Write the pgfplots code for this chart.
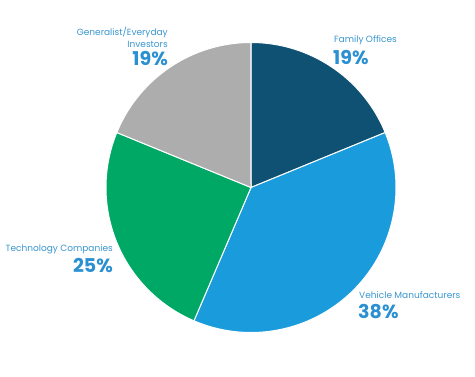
\documentclass[border=0pt]{standalone}
\usepackage{pgfplots}
\pgfplotsset{compat=1.18}
\usepackage{fontspec}
\setmainfont{Poppins}
\definecolor{famc}{HTML}{0F5173}
\definecolor{vehc}{HTML}{1A9BDB}
\definecolor{techc}{HTML}{00A865}
\definecolor{genc}{HTML}{ADADAD}
\definecolor{txtc}{HTML}{3A96D0}
\definecolor{pctc}{HTML}{2A90D2}
\begin{document}
\begin{tikzpicture}
% shares (percent), clockwise from the top
\def\vFam{19}\def\vVeh{38}\def\vTech{25}\def\vGen{19}
\pgfmathsetmacro\tot{\vFam+\vVeh+\vTech+\vGen}
\pgfmathsetmacro\aA{90}
\pgfmathsetmacro\aB{\aA-\vFam/\tot*360}
\pgfmathsetmacro\aC{\aB-\vVeh/\tot*360}
\pgfmathsetmacro\aD{\aC-\vTech/\tot*360}
\pgfmathsetmacro\aE{\aD-\vGen/\tot*360}
\begin{axis}[
  width=475pt, height=377pt, scale only axis,
  xmin=0, xmax=475, ymin=0, ymax=377,
  hide axis, clip=false,
]
\path[fill=white] (axis cs:0,0) rectangle (axis cs:475,377);
\addplot[fill=famc, draw=white, line width=1pt, domain=\aB:\aA, samples=80]
  ({251+145*cos(x)},{189.5+145*sin(x)}) -- (axis cs:251,189.5) -- cycle;
\addplot[fill=vehc, draw=white, line width=1pt, domain=\aC:\aB, samples=120]
  ({251+145*cos(x)},{189.5+145*sin(x)}) -- (axis cs:251,189.5) -- cycle;
\addplot[fill=techc, draw=white, line width=1pt, domain=\aD:\aC, samples=100]
  ({251+145*cos(x)},{189.5+145*sin(x)}) -- (axis cs:251,189.5) -- cycle;
\addplot[fill=genc, draw=white, line width=1pt, domain=\aE:\aD, samples=80]
  ({251+145*cos(x)},{189.5+145*sin(x)}) -- (axis cs:251,189.5) -- cycle;

\node[anchor=east, align=right, text=txtc, font=\fontsize{9}{11.5}\selectfont, inner sep=0pt] at (axis cs:168,339.5) {Generalist/Everyday\\Investors};
\node[anchor=east, text=pctc, font=\fontsize{19}{19}\bfseries, inner sep=0pt] at (axis cs:168,318.5) {19\%};

\node[anchor=west, text=txtc, font=\fontsize{9}{12}\selectfont, inner sep=0pt] at (axis cs:334,336.5) {Family Offices};
\node[anchor=west, text=pctc, font=\fontsize{19}{19}\bfseries, inner sep=0pt] at (axis cs:333,319) {19\%};

\node[anchor=east, text=txtc, font=\fontsize{9}{12}\selectfont, inner sep=0pt] at (axis cs:113,128) {Technology Companies};
\node[anchor=east, text=pctc, font=\fontsize{19}{19}\bfseries, inner sep=0pt] at (axis cs:113,111.5) {25\%};

\node[anchor=west, text=txtc, font=\fontsize{9}{12}\selectfont, inner sep=0pt] at (axis cs:359,81.5) {Vehicle Manufacturers};
\node[anchor=west, text=pctc, font=\fontsize{19}{19}\bfseries, inner sep=0pt] at (axis cs:358,65.5) {38\%};
\end{axis}
\end{tikzpicture}
\end{document}
